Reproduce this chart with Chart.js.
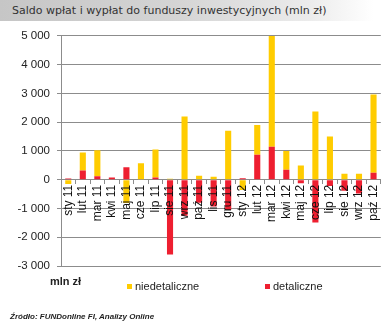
<!DOCTYPE html>
<html>
<head>
<meta charset="utf-8">
<script src="https://cdn.jsdelivr.net/npm/chart.js@4"></script>
<style>
  body { margin: 0; background: #fff; width: 389px; height: 325px; position: relative; overflow: hidden; font-family: "Liberation Sans", Arial, sans-serif; }
  #title { position: absolute; left: 0; top: 0; width: 389px; height: 21px;
    background: linear-gradient(to right, #c6c6c6 0%, #d4d4d4 45%, #ececec 80%, #ffffff 96%);
    font-family: "DejaVu Sans", Verdana, sans-serif; font-size: 11px; color: #333; line-height: 21px; padding-left: 12px; box-sizing: border-box; white-space: nowrap; }
  #box { position: absolute; left: 0; top: 22px; width: 389px; height: 258px; }
  .unit { position: absolute; left: 50px; top: 275px; font-size: 11px; font-weight: bold; color: #222; }
  .leg { position: absolute; top: 280px; font-size: 11px; color: #222; }
  .leg i { display: inline-block; width: 5px; height: 5px; margin-right: 3px; vertical-align: 1px; }
  .src { position: absolute; left: 10px; top: 312px; font-size: 8px; font-weight: bold; font-style: italic; color: #222; }
</style>
</head>
<body>
<div id="title">Saldo wpłat i wypłat do funduszy inwestycyjnych (mln zł)</div>
<div id="box"><canvas id="chart" width="389" height="258"></canvas></div>
<div class="unit">mln zł</div>
<div class="leg" style="left:127px"><i style="background:#ffcc00"></i>niedetaliczne</div>
<div class="leg" style="left:265px"><i style="background:#ee1f30"></i>detaliczne</div>
<div class="src">Źródło: FUNDonline FI, Analizy Online</div>

<script>
  // Chart Data

  var months = ["sty 11", "lut 11", "mar 11", "kwi 11", "maj 11", "cze 11", "lip 11", "sie 11",
    "wrz 11", "paź 11", "lis 11", "gru 11", "sty 12", "lut 12", "mar 12", "kwi 12",
    "maj 12", "cze 12", "lip 12", "sie 12", "wrz 12", "paź 12"];

  var detaliczne = [40, 320, 120, 80, 430, 0, 80, -2600, -1250, -800, -930, -1050,
    50, 870, 1150, 350, -120, -1490, -220, -380, -480, 240];

  var niedetaliczne = [-150, 630, 900, 0, -810, 570, 970, 30, 2200, 140, 100, 1700,
    -360, 1030, 3850, 650, 490, 2370, 1500, 210, 210, 2720];

  var yMin = -3000, yMax = 5000, yStep = 1000;

  var gridColor = "#8c8c8c";

  function spaced(v) {
    return v.toString().replace(/\B(?=(\d{3})+(?!\d))/g, " ");
  }

  // Generate Chart

  var chart = new Chart(document.getElementById("chart").getContext("2d"), {
    type: "bar",
    data: {
      labels: months,
      datasets: [
        { label: "detaliczne", data: detaliczne, backgroundColor: "#ee1f30" },
        { label: "niedetaliczne", data: niedetaliczne, backgroundColor: "#ffcc00" }
      ]
    },
    options: {
      responsive: false,
      animation: false,
      layout: { padding: { left: 0, right: 3, top: 13, bottom: 14 } },
      datasets: { bar: { barPercentage: 0.42, categoryPercentage: 1 } },
      plugins: { legend: { display: false }, tooltip: { enabled: false } },
      scales: {
        x: {
          stacked: true,
          position: { y: 0 },
          grid: { offset: true, drawOnChartArea: false, drawTicks: true, tickLength: 4, color: gridColor },
          border: { color: gridColor },
          ticks: {
            z: 1, // month names sit on top of the bars
            autoSkip: false,
            minRotation: 90,
            maxRotation: 90,
            padding: 1,
            color: "#111",
            font: { family: "'Liberation Sans', Arial, sans-serif", size: 12 }
          }
        },
        y: {
          stacked: true,
          min: yMin,
          max: yMax,
          afterFit: function(scale) { scale.width = 61; },
          ticks: {
            stepSize: yStep,
            padding: 7,
            color: "#222",
            font: { family: "'Liberation Sans', Arial, sans-serif", size: 11.5 },
            callback: function(v) { return spaced(v); }
          },
          grid: { color: gridColor, tickLength: 4 },
          border: { color: gridColor }
        }
      }
    }
  });
</script>
</body>
</html>
